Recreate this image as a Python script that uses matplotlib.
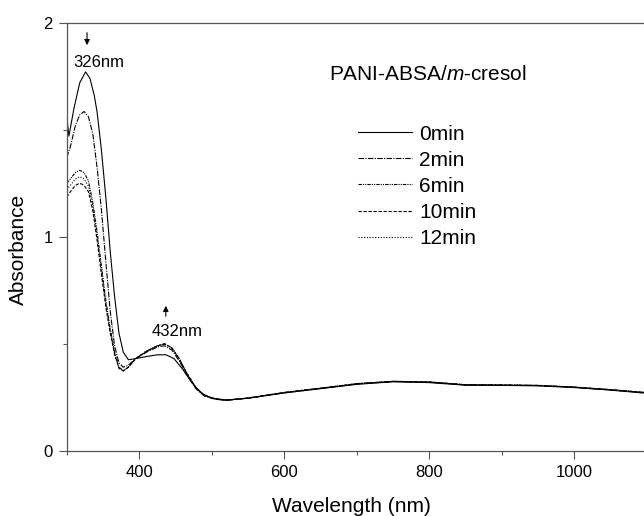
import numpy as np
import matplotlib
matplotlib.use('Agg')
import matplotlib.pyplot as plt
from matplotlib.ticker import MultipleLocator

plt.rcParams['font.family'] = ['Liberation Sans', 'DejaVu Sans']
plt.rcParams['mathtext.fontset'] = 'custom'
plt.rcParams['mathtext.it'] = 'Liberation Sans:italic'
plt.rcParams['mathtext.rm'] = 'Liberation Sans'

# spectra (wavelength nm, absorbance)
wl_0 = [300, 303, 310, 318, 326, 332, 338, 342, 348, 354, 360, 366, 372, 378, 385, 395,
        410, 425, 437, 448, 460, 472, 485, 500, 520, 550, 600, 650, 700, 750, 800, 850,
        900, 950, 1000, 1050, 1100]
a_0 = [1.56, 1.47, 1.60, 1.72, 1.77, 1.74, 1.66, 1.58, 1.40, 1.18, 0.93, 0.72, 0.55, 0.46,
       0.425, 0.43, 0.44, 0.448, 0.448, 0.43, 0.38, 0.32, 0.27, 0.245, 0.237, 0.245, 0.27,
       0.29, 0.31, 0.322, 0.318, 0.306, 0.305, 0.303, 0.295, 0.283, 0.268]

wl_n = [300, 305, 312, 318, 324, 330, 336, 342, 348, 354, 360, 366, 372, 378, 385, 395,
        410, 425, 435, 445, 455, 465, 478, 490, 505, 520, 550, 600, 650, 700, 750, 800,
        850, 900, 950, 1000, 1050, 1100]
a_2 = [1.37, 1.42, 1.52, 1.57, 1.585, 1.56, 1.48, 1.32, 1.12, 0.88, 0.65, 0.49, 0.41, 0.39,
       0.40, 0.43, 0.46, 0.485, 0.49, 0.47, 0.42, 0.36, 0.29, 0.255, 0.24, 0.235, 0.245,
       0.27, 0.29, 0.312, 0.323, 0.32, 0.307, 0.306, 0.304, 0.296, 0.284, 0.27]
a_6 = [1.25, 1.27, 1.30, 1.31, 1.30, 1.26, 1.16, 1.02, 0.86, 0.70, 0.57, 0.46, 0.39, 0.375,
       0.39, 0.43, 0.465, 0.49, 0.498, 0.48, 0.43, 0.365, 0.295, 0.258, 0.242, 0.236, 0.246,
       0.272, 0.292, 0.313, 0.324, 0.321, 0.308, 0.307, 0.305, 0.297, 0.285, 0.271]
a_10 = [1.185, 1.21, 1.24, 1.25, 1.24, 1.21, 1.12, 0.98, 0.82, 0.67, 0.55, 0.45, 0.385, 0.372,
        0.39, 0.43, 0.465, 0.49, 0.50, 0.48, 0.43, 0.365, 0.295, 0.258, 0.242, 0.236, 0.246,
        0.272, 0.292, 0.313, 0.324, 0.321, 0.308, 0.307, 0.305, 0.297, 0.285, 0.271]
a_12 = [1.22, 1.24, 1.27, 1.28, 1.27, 1.235, 1.14, 1.00, 0.84, 0.685, 0.56, 0.455, 0.387, 0.373,
        0.39, 0.43, 0.465, 0.49, 0.499, 0.48, 0.43, 0.365, 0.295, 0.258, 0.242, 0.236, 0.246,
        0.272, 0.292, 0.313, 0.324, 0.321, 0.308, 0.307, 0.305, 0.297, 0.285, 0.271]

labels = ['0min', '2min', '6min', '10min', '12min']

fig = plt.figure(figsize=(6.44, 5.16), dpi=100)
ax = fig.add_axes([0.1036, 0.1266, 0.901, 0.8294])

ax.plot(wl_0, a_0, color='k', lw=0.8, ls='-', label=labels[0])
ax.plot(wl_n, a_2, color='k', lw=0.8, ls=(0, (5, 1.2, 1, 1.2)), label=labels[1])
ax.plot(wl_n, a_6, color='k', lw=0.8, ls=(0, (3, 1, 1, 1, 1, 1)), label=labels[2])
ax.plot(wl_n, a_10, color='k', lw=0.8, ls=(0, (3, 1.5)), label=labels[3])
ax.plot(wl_n, a_12, color='k', lw=0.8, ls=(0, (1, 1.5)), label=labels[4])

ax.set_xlim(300, 1100)
ax.set_ylim(0, 2)
ax.xaxis.set_major_locator(MultipleLocator(200))
ax.xaxis.set_minor_locator(MultipleLocator(100))
ax.yaxis.set_major_locator(MultipleLocator(1))
ax.yaxis.set_minor_locator(MultipleLocator(0.5))
ax.tick_params(which='major', direction='out', length=6, width=0.8, color='#555555',
               labelsize=12, pad=4)
ax.tick_params(which='minor', direction='out', length=3, width=0.8, color='#555555')
ax.tick_params(top=False, right=False, which='both')
for s in ax.spines.values():
    s.set_color('#555555')
    s.set_linewidth(0.9)
ax.spines['right'].set_visible(False)

ax.set_xlabel('Wavelength (nm)', fontsize=15)
ax.set_ylabel('Absorbance', fontsize=15)
ax.xaxis.set_label_coords(0.49, -0.108)
ax.yaxis.set_label_coords(-0.067, 0.47)

ax.text(662, 1.756, 'PANI-ABSA/$\\it{m}$-cresol', fontsize=15, va='center', ha='left')

ax.annotate('', xy=(328, 1.882), xytext=(328, 1.966),
            arrowprops=dict(arrowstyle='-|>', color='k', lw=0.8, mutation_scale=8))
ax.text(344.4, 1.816, '326nm', fontsize=12, ha='center', va='center')
ax.annotate('', xy=(436.6, 0.69), xytext=(436.6, 0.615),
            arrowprops=dict(arrowstyle='-|>', color='k', lw=0.8, mutation_scale=8))
ax.text(452.4, 0.559, '432nm', fontsize=12, ha='center', va='center')

ax.legend(loc='upper left', bbox_to_anchor=(0.502, 0.762), frameon=False, fontsize=15,
          handlelength=2.6, handletextpad=0.35, labelspacing=0.34, borderpad=0,
          borderaxespad=0)

fig.savefig('out.png', dpi=100)
